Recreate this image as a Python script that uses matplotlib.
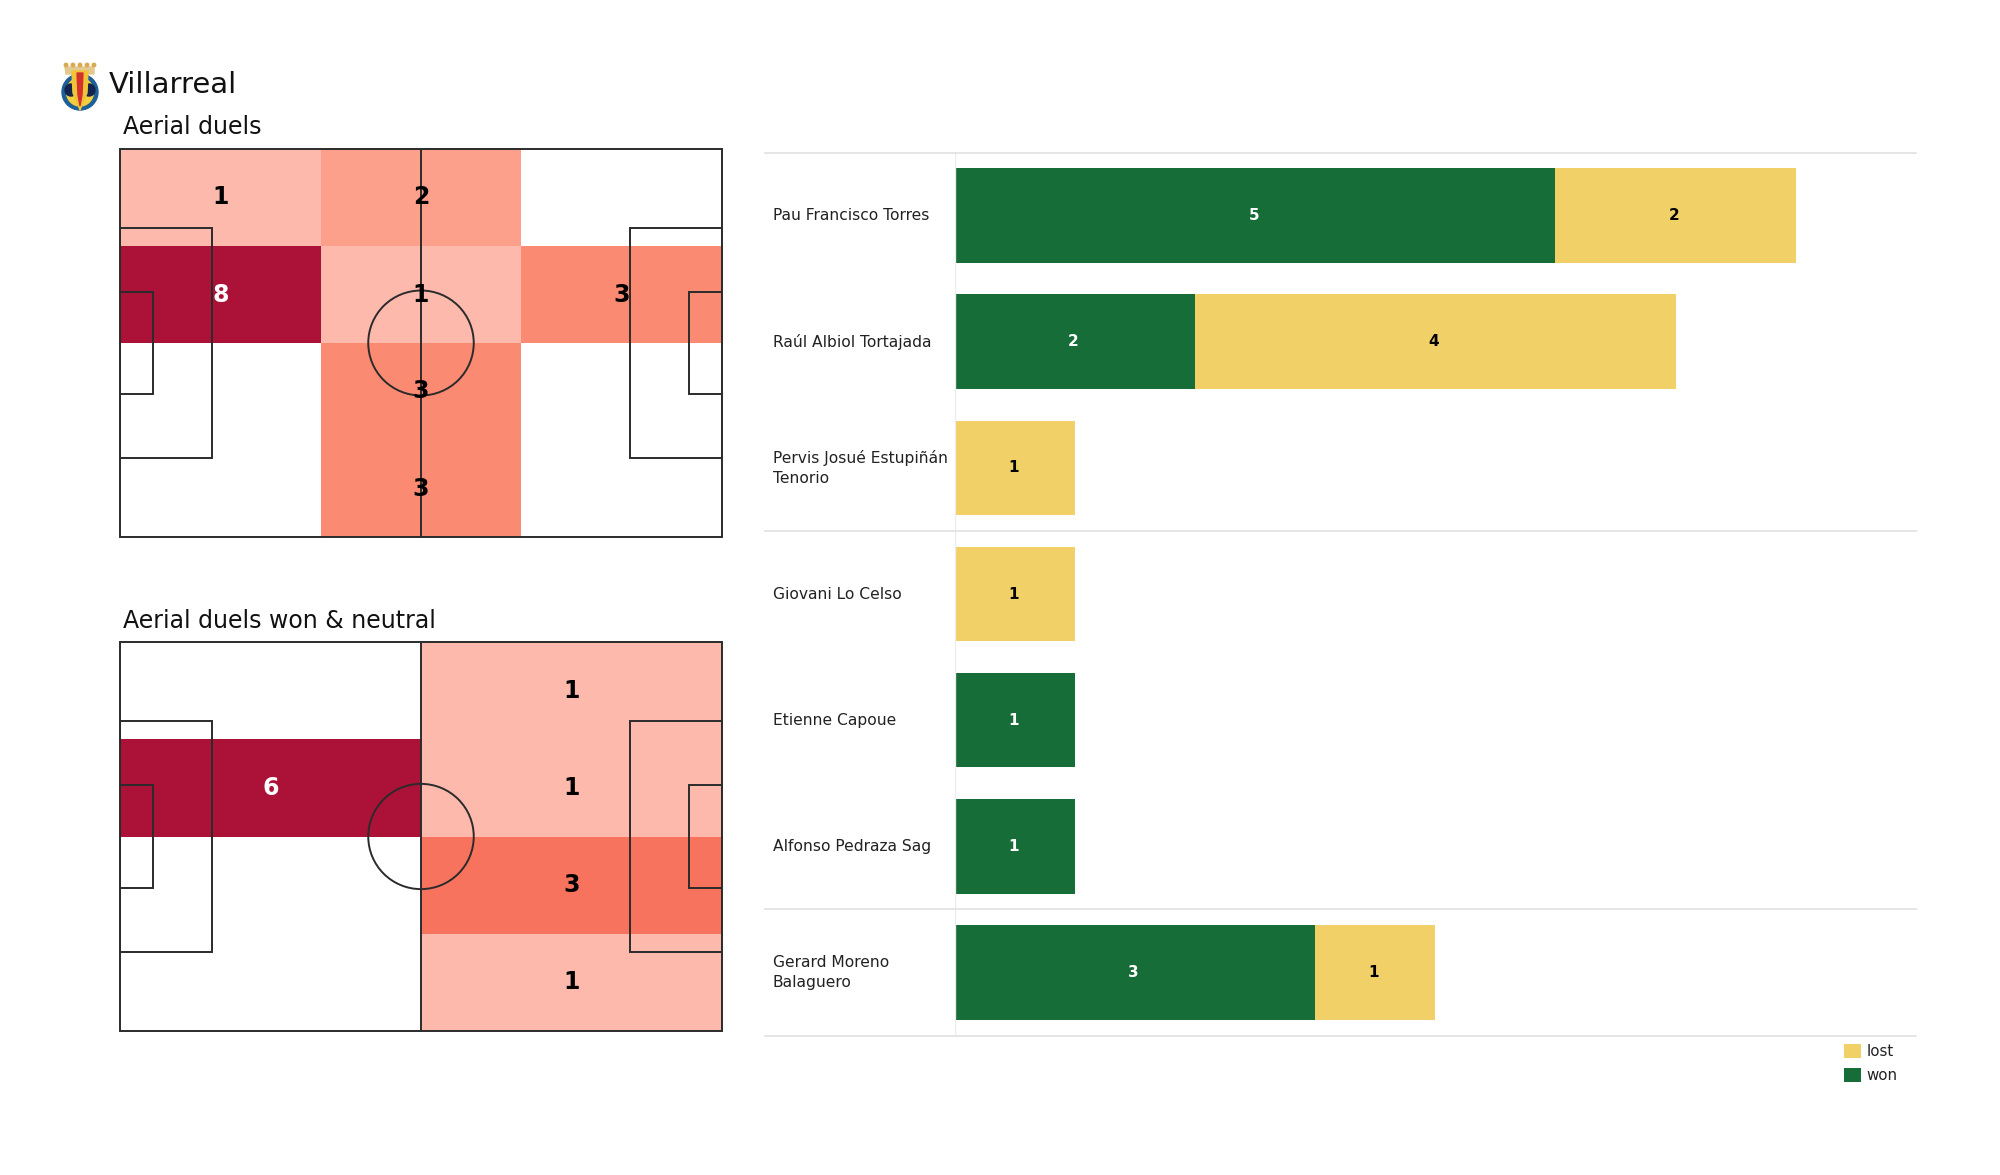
import matplotlib
matplotlib.use("Agg")
import matplotlib.pyplot as plt
import numpy as np
from matplotlib.colors import LinearSegmentedColormap
from matplotlib.patches import Rectangle, Circle, Polygon, Ellipse

W, H = 2000, 1175

# heatmap counts, rows from top to bottom
duels = [[1, 2, 0],
         [8, 1, 3],
         [0, 3, 0],
         [0, 3, 0]]
duels_won = [[0, 1],
             [6, 1],
             [0, 3],
             [0, 1]]

# bar chart
players = ["Pau Francisco Torres", "Raúl Albiol Tortajada",
           "Pervis Josué Estupiñán\nTenorio", "Giovani Lo Celso",
           "Etienne Capoue", "Alfonso Pedraza Sag",
           "Gerard Moreno\nBalaguero"]
won = [5, 2, 0, 0, 1, 1, 3]
lost = [2, 4, 1, 1, 0, 0, 1]
group_ends = [3, 6, 7]

GREEN = "#166d38"
YELLOW = "#f1d067"
LINE = "#2b2b2b"

reds1 = LinearSegmentedColormap.from_list(
    "r1", [(0, "#ffffff"), (0.001, "#feb9ad"), (1 / 8, "#feb9ad"), (2 / 8, "#fda08b"),
           (3 / 8, "#fb8a72"), (1, "#ac1137")])
reds2 = LinearSegmentedColormap.from_list(
    "r2", [(0, "#ffffff"), (0.001, "#feb9ad"), (1 / 6, "#feb9ad"), (3 / 6, "#f7735e"),
           (1, "#ac1137")])


def px_axes(x0, y0, x1, y1):
    # axes from pixel box, y measured from top
    return fig.add_axes([x0 / W, 1 - y1 / H, (x1 - x0) / W, (y1 - y0) / H])


def draw_pitch(ax, counts, cmap):
    counts = np.array(counts)
    rows, cols = counts.shape
    xs = np.linspace(0, 105, cols + 1)
    ys = np.linspace(68, 0, rows + 1)
    ax.pcolormesh(xs, ys, counts, cmap=cmap, vmin=0, vmax=counts.max(), zorder=1)
    for r in range(rows):
        for c in range(cols):
            if counts[r, c] > 0:
                color = "white" if counts[r, c] == counts.max() else "black"
                ax.text((xs[c] + xs[c + 1]) / 2, (ys[r] + ys[r + 1]) / 2, str(counts[r, c]),
                        ha="center", va="center", fontsize=17, fontweight="bold",
                        color=color, zorder=4)
    # pitch lines
    kw = dict(fill=False, edgecolor=LINE, linewidth=1.4, zorder=3)
    ax.add_patch(Rectangle((0, 0), 105, 68, clip_on=False, **kw))
    ax.plot([52.5, 52.5], [0, 68], color=LINE, linewidth=1.4, zorder=3)
    ax.add_patch(Circle((52.5, 34), 9.2, **kw))
    for x, w in [(0, 16), (105 - 16, 16)]:
        ax.add_patch(Rectangle((x, 13.84), w, 40.32, **kw))
    for x, w in [(0, 5.8), (105 - 5.8, 5.8)]:
        ax.add_patch(Rectangle((x, 25), w, 18, **kw))
    ax.set_xlim(0, 105)
    ax.set_ylim(0, 68)
    ax.axis("off")


fig = plt.figure(figsize=(20, 11.75), dpi=100, facecolor="white")

ax1 = px_axes(120, 149, 722, 537)
draw_pitch(ax1, duels, reds1)
ax2 = px_axes(120, 642, 722, 1031)
draw_pitch(ax2, duels_won, reds2)

fig.text(109 / W, 1 - 85 / H, "Villarreal", fontsize=21, va="center", color="#111111")
fig.text(123 / W, 1 - 127 / H, "Aerial duels", fontsize=17, va="center", color="#111111")
fig.text(123 / W, 1 - 621 / H, "Aerial duels won & neutral", fontsize=17, va="center", color="#111111")

# bars
ax3 = px_axes(954.5, 152.5, 1916, 1035.5)
y = np.arange(len(players))
ax3.barh(y, won, height=0.75, color=GREEN, label="won")
ax3.barh(y, lost, height=0.75, left=won, color=YELLOW, label="lost")
for i in y:
    if won[i]:
        ax3.text(won[i] / 2 - 0.01, i, str(won[i]), ha="center", va="center",
                 fontsize=11, fontweight="bold", color="white")
    if lost[i]:
        ax3.text(won[i] + lost[i] / 2 - 0.01, i, str(lost[i]), ha="center", va="center",
                 fontsize=11, fontweight="bold", color="black")
    ax3.text(-0.189, i, players[i], ha="left", va="center", fontsize=11.2,
             color="#222222", linespacing=1.38, transform=ax3.get_yaxis_transform())
ax3.set_xlim(0, 8)
ax3.set_ylim(len(players) - 0.5, -0.5)
ax3.set_xticks([])
ax3.set_yticks([])
for s in ax3.spines.values():
    s.set_visible(False)
ax3.axvline(0, color="#ececec", linewidth=1)
for e in [0] + group_ends:
    ax3.plot([-0.197, 1], [e - 0.5, e - 0.5], color="#dedede", linewidth=1.1,
             clip_on=False, transform=ax3.get_yaxis_transform())

h, l = ax3.get_legend_handles_labels()
fig.legend(h[::-1], l[::-1], loc="upper left", bbox_to_anchor=(1844 / W, 1 - 1044 / H),
           frameon=False, fontsize=10.8, handlelength=1.1, handleheight=1.1, handletextpad=0.42,
           labelspacing=0.55, borderpad=0, borderaxespad=0, labelcolor="#222222")

# club crest
logo = px_axes(55, 58, 105, 115)
logo.set_xlim(55, 105)
logo.set_ylim(115, 58)
logo.axis("off")
logo.add_patch(Polygon([(66, 74), (65, 67), (94, 67), (94, 74)], color="#e3c98f"))
for cx in [66, 73, 80, 87, 94]:
    logo.add_patch(Circle((cx, 65), 1.7, color="#d9a94f"))
logo.add_patch(Ellipse((80, 92), 36, 36, color="#1f5f99"))
logo.add_patch(Ellipse((80, 92), 27, 28, color="#f2cf3c"))
logo.add_patch(Circle((71, 90), 6, color="#12264d"))
logo.add_patch(Circle((89, 90), 6, color="#12264d"))
logo.add_patch(Polygon([(72, 71), (88, 71), (87, 93), (80, 110), (73, 93)], color="#f0c43a"))
logo.add_patch(Polygon([(77, 73), (83, 73), (82, 95), (80, 106), (78, 95)], color="#d4312a"))

fig.savefig("out.png", dpi=100)
